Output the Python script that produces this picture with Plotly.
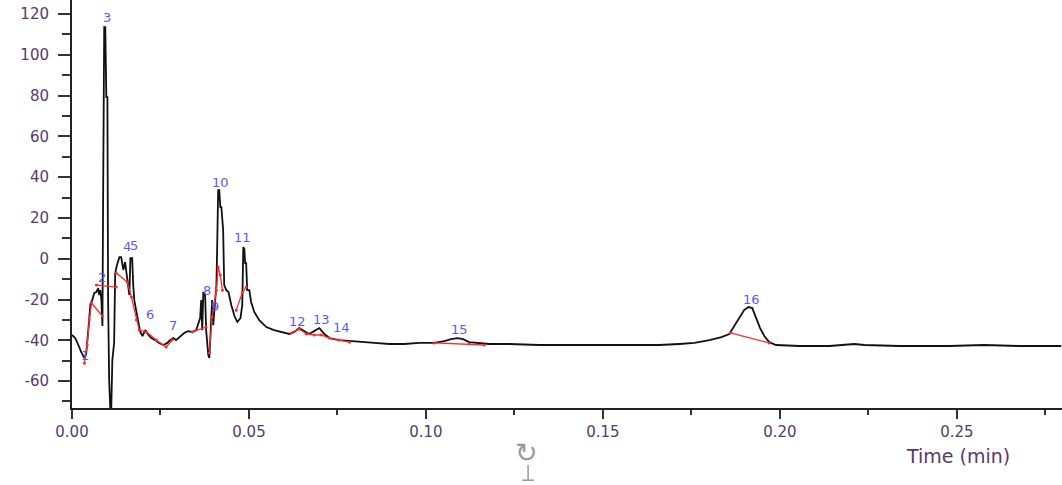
import plotly.graph_objects as go

# Detector signal (time in min, response)
time_min = [
    0.0000, 0.0009, 0.0018, 0.0026, 0.0035, 0.0040, 0.0046, 0.0052, 0.0057, 0.0063,
    0.0069, 0.0074, 0.0077, 0.0080, 0.0083, 0.0086, 0.0088, 0.0091, 0.0094, 0.0097,
    0.0100, 0.0102, 0.0105, 0.0108, 0.0111, 0.0114, 0.0119, 0.0122, 0.0127, 0.0134,
    0.0139, 0.0145, 0.0150, 0.0156, 0.0162, 0.0165, 0.0170, 0.0173, 0.0176, 0.0182,
    0.0187, 0.0193, 0.0199, 0.0207, 0.0216, 0.0224, 0.0235, 0.0246, 0.0258, 0.0269,
    0.0277, 0.0286, 0.0294, 0.0306, 0.0317, 0.0328, 0.0340, 0.0351, 0.0357, 0.0362,
    0.0365, 0.0368, 0.0371, 0.0376, 0.0379, 0.0385, 0.0388, 0.0391, 0.0393, 0.0396,
    0.0399, 0.0402, 0.0405, 0.0408, 0.0410, 0.0413, 0.0416, 0.0419, 0.0422, 0.0425,
    0.0427, 0.0430, 0.0436, 0.0442, 0.0450, 0.0459, 0.0467, 0.0476, 0.0481, 0.0484,
    0.0487, 0.0489, 0.0492, 0.0495, 0.0501, 0.0506, 0.0515, 0.0529, 0.0549, 0.0571,
    0.0594, 0.0614, 0.0628, 0.0642, 0.0656, 0.0670, 0.0684, 0.0699, 0.0713, 0.0727,
    0.0755, 0.0784, 0.0812, 0.0854, 0.0897, 0.0939, 0.0981, 0.1023, 0.1052, 0.1071,
    0.1088, 0.1105, 0.1122, 0.1142, 0.1179, 0.1235, 0.1320, 0.1405, 0.1490, 0.1574,
    0.1659, 0.1716, 0.1759, 0.1801, 0.1835, 0.1857, 0.1871, 0.1885, 0.1899, 0.1911,
    0.1922, 0.1933, 0.1944, 0.1956, 0.1970, 0.1989, 0.2055, 0.2140, 0.2182, 0.2210,
    0.2239, 0.2337, 0.2479, 0.2577, 0.2676, 0.2795,
]
signal = [
    -37.4, -38.9, -42.3, -45.8, -48.7, -46.7, -35.0, -22.2, -20.3, -16.8,
    -16.3, -14.4, -17.8, -15.4, -20.3, -33.0, 32.7, 113.6, 113.6, 79.3,
    79.3, -20.3, -59.5, -72.7, -72.7, -49.6, -41.3, -7.2, -3.1, 0.8,
    0.8, -5.5, -1.6, -10.4, -17.8, 0.3, 0.3, -12.9, -20.3, -26.1,
    -31.0, -35.9, -37.9, -35.0, -37.4, -38.9, -39.9, -41.3, -42.3, -41.3,
    -39.9, -38.9, -39.9, -37.9, -36.4, -35.5, -35.9, -35.0, -32.1, -29.1,
    -20.3, -35.0, -16.3, -17.8, -35.0, -47.2, -48.7, -37.4, -30.1, -20.3,
    -32.6, -25.2, -15.4, -12.9, 4.3, 33.6, 33.6, 25.3, 25.3, 14.1,
    14.1, -12.9, -15.4, -16.3, -22.7, -28.1, -31.0, -29.1, -22.7, 5.7,
    4.8, -2.1, -2.1, -15.4, -15.4, -21.2, -26.1, -30.1, -33.5, -35.0,
    -35.9, -36.9, -35.9, -34.0, -35.5, -36.9, -35.5, -34.0, -36.9, -38.9,
    -39.9, -40.4, -40.9, -41.3, -41.8, -41.8, -41.3, -41.3, -40.4, -39.4,
    -38.9, -39.4, -40.9, -41.3, -41.8, -41.8, -42.3, -42.3, -42.3, -42.3,
    -42.3, -41.8, -41.3, -39.9, -38.4, -36.9, -33.0, -29.1, -25.2, -23.7,
    -24.2, -29.1, -34.0, -37.9, -40.9, -42.3, -42.8, -42.8, -42.3, -41.8,
    -42.3, -42.8, -42.8, -42.3, -42.8, -42.8,
]

# Integration baselines (None separates the segments)
base_time = [
    0.0035, 0.0043, 0.0049, 0.0055, 0.0086, None,
    0.0069, 0.0125, None,
    0.0125, 0.0156, 0.0168, 0.0182, 0.0190, 0.0210, 0.0238, 0.0266, 0.0283, None,
    0.0340, 0.0379, None,
    0.0388, 0.0396, 0.0408, 0.0413, 0.0419, 0.0425, None,
    0.0464, 0.0481, 0.0492, None,
    0.0619, 0.0642, 0.0662, 0.0684, 0.0704, 0.0727, 0.0755, 0.0784, None,
    0.1023, 0.1122, 0.1165, None,
    0.1860, 0.1970,
]
base_value = [
    -51.2, -42.3, -30.1, -21.7, -28.1, None,
    -12.9, -13.9, None,
    -7.0, -11.4, -18.8, -30.1, -35.0, -35.9, -39.9, -43.3, -39.9, None,
    -35.9, -33.5, None,
    -46.2, -28.6, -15.4, -4.1, -8.0, -15.4, None,
    -25.2, -16.8, -13.9, None,
    -36.4, -34.5, -36.9, -37.4, -37.4, -38.9, -39.9, -40.9, None,
    -41.3, -41.8, -42.3, None,
    -36.4, -41.3,
]

# Peak numbers and where their labels sit
peak_names = ["1", "2", "3", "4", "5", "6", "7", "8", "9", "10",
              "11", "12", "13", "14", "15", "16"]
label_time = [0.0037, 0.0086, 0.0100, 0.0154, 0.0176, 0.0221, 0.0286, 0.0382,
              0.0405, 0.0419, 0.0481, 0.0636, 0.0704, 0.0760, 0.1094, 0.1919]
label_value = [-47.4, -9.0, 118.1, 6.2, 6.7, -27.1, -32.5, -15.8,
               -23.2, 37.6, 10.6, -30.6, -29.6, -33.5, -34.5, -19.8]

y_tick_vals = [-60, -40, -20, 0, 20, 40, 60, 80, 100, 120]
y_tick_text = ["-60", "-40", "-20", "0", "20", "40", "60", "80", "100", "120"]
x_tick_vals = [0.00, 0.05, 0.10, 0.15, 0.20, 0.25]
x_tick_text = ["0.00", "0.05", "0.10", "0.15", "0.20", "0.25"]

LABEL_FONT = "DejaVu Sans"
AXIS_TEXT = "#58396a"
PEAK_TEXT = "#5a5af2"

fig = go.Figure()
fig.add_trace(go.Scatter(
    x=time_min, y=signal, mode="lines",
    line=dict(color="#111111", width=1.8),
    hoverinfo="skip", showlegend=False,
))
fig.add_trace(go.Scatter(
    x=base_time, y=base_value, mode="lines+markers",
    line=dict(color="#ff2a2a", width=1.3),
    marker=dict(color="#ff2a2a", size=3),
    connectgaps=False, hoverinfo="skip", showlegend=False,
))

for name, t, v in zip(peak_names, label_time, label_value):
    fig.add_annotation(
        x=t, y=v, text=name, showarrow=False,
        xanchor="center", yanchor="middle",
        font=dict(family=LABEL_FONT, size=13, color=PEAK_TEXT),
    )

# Axis title at the lower right
fig.add_annotation(
    xref="paper", yref="paper", x=0.895, y=-0.118,
    text="Time (min)", showarrow=False,
    xanchor="center", yanchor="middle",
    font=dict(family=LABEL_FONT, size=19, color=AXIS_TEXT),
)

# Small refresh glyph under the axis
fig.add_annotation(
    xref="paper", yref="paper", x=0.4595, y=-0.108,
    text="\u21bb", showarrow=False,
    xanchor="center", yanchor="middle",
    font=dict(family=LABEL_FONT, size=27, color="#9a9a9a"),
)
fig.add_shape(type="line", xref="paper", yref="paper",
              x0=0.4607, x1=0.4607, y0=-0.140, y1=-0.177,
              line=dict(color="#9a9a9a", width=1.5))
fig.add_shape(type="line", xref="paper", yref="paper",
              x0=0.4547, x1=0.4667, y0=-0.177, y1=-0.177,
              line=dict(color="#9a9a9a", width=1.5))

fig.update_layout(
    width=1062, height=485,
    margin=dict(l=72, r=0, t=0, b=77),
    paper_bgcolor="white", plot_bgcolor="white",
    font=dict(family=LABEL_FONT),
)
fig.update_xaxes(
    range=[0, 0.2797],
    tickvals=x_tick_vals, ticktext=x_tick_text,
    showline=True, linecolor="#222222", linewidth=2,
    ticks="outside", ticklen=9, tickwidth=1.5, tickcolor="#333333",
    minor=dict(dtick=0.025, ticks="outside", ticklen=5, tickwidth=1.5,
               tickcolor="#333333", showgrid=False),
    showgrid=False, zeroline=False,
    tickfont=dict(family=LABEL_FONT, size=15, color=AXIS_TEXT),
)
fig.update_yaxes(
    range=[-73.2, 126.9],
    tickvals=y_tick_vals, ticktext=y_tick_text,
    showline=True, linecolor="#222222", linewidth=2,
    ticks="outside", ticklen=12, tickwidth=1.5, tickcolor="#333333",
    minor=dict(tickvals=[-70, -50, -30, -10, 10, 30, 50, 70, 90, 110],
               ticks="outside", ticklen=8, tickwidth=1.5,
               tickcolor="#333333", showgrid=False),
    showgrid=False, zeroline=False,
    ticklabelstandoff=6,
    tickfont=dict(family=LABEL_FONT, size=15, color=AXIS_TEXT),
)

fig.write_html("out.html")
